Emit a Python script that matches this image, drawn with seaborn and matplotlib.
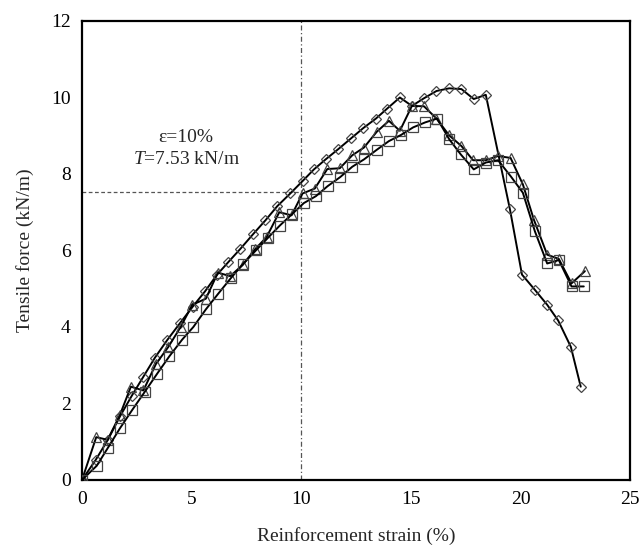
import matplotlib
matplotlib.use("Agg")
import matplotlib.pyplot as plt
import seaborn as sns
import pandas as pd

# Series 1 (diamond markers)
d_strain = [0, 0.62, 1.18, 1.73, 2.27, 2.8, 3.33, 3.89, 4.47, 5.05, 5.61, 6.15, 6.68, 7.22,
            7.81, 8.37, 8.91, 9.5, 10.07, 10.58, 11.11, 11.69, 12.27, 12.83, 13.41, 13.92,
            14.5, 15.05, 15.6, 16.17, 16.75, 17.31, 17.87, 18.42, 19.52, 20.07, 20.66,
            21.22, 21.72, 22.3, 22.75]
d_force = [0, 0.52, 1.05, 1.66, 2.2, 2.7, 3.2, 3.66, 4.1, 4.53, 4.93, 5.36, 5.7, 6.04,
           6.43, 6.79, 7.16, 7.49, 7.82, 8.12, 8.38, 8.65, 8.93, 9.2, 9.45, 9.71,
           10.0, 9.78, 9.98, 10.17, 10.24, 10.22, 9.96, 10.07, 7.08, 5.37, 4.97,
           4.58, 4.17, 3.48, 2.44]

# Series 2 (triangle markers)
t_strain = [0, 0.65, 1.17, 1.73, 2.23, 2.8, 3.37, 3.94, 4.5, 5.03, 5.65, 6.2, 6.76, 7.33,
            7.89, 8.42, 9.0, 9.56, 10.06, 10.62, 11.19, 11.76, 12.33, 12.86, 13.44, 14.0,
            14.5, 15.05, 15.6, 16.17, 16.75, 17.31, 17.84, 18.42, 18.98, 19.55, 20.11,
            20.61, 21.22, 21.75, 22.33, 22.94]
t_force = [0, 1.12, 1.05, 1.7, 2.44, 2.34, 3.03, 3.48, 4.0, 4.58, 4.74, 5.42, 5.33, 5.62,
           6.03, 6.35, 7.0, 6.92, 7.49, 7.62, 8.13, 8.15, 8.49, 8.69, 9.1, 9.39,
           9.13, 9.78, 9.77, 9.45, 9.01, 8.73, 8.36, 8.36, 8.47, 8.42, 7.73,
           6.81, 5.89, 5.78, 5.14, 5.46]

# Series 3 (square markers)
s_strain = [0, 0.67, 1.17, 1.73, 2.29, 2.87, 3.43, 3.98, 4.57, 5.08, 5.65, 6.2, 6.78, 7.35,
            7.93, 8.48, 9.02, 9.58, 10.12, 10.67, 11.2, 11.78, 12.33, 12.86, 13.44, 14.0,
            14.55, 15.11, 15.66, 16.2, 16.75, 17.28, 17.87, 18.42, 18.98, 19.57, 20.11,
            20.66, 21.22, 21.75, 22.33, 22.89]
s_force = [0, 0.37, 0.83, 1.35, 1.83, 2.31, 2.78, 3.23, 3.67, 4.0, 4.46, 4.86, 5.27, 5.65,
           6.0, 6.33, 6.65, 6.95, 7.24, 7.42, 7.68, 7.92, 8.19, 8.38, 8.63, 8.86,
           9.02, 9.22, 9.35, 9.45, 8.91, 8.51, 8.12, 8.3, 8.36, 7.93, 7.51,
           6.5, 5.66, 5.75, 5.06, 5.06]

ref_strain = 10
ref_force = 7.53
x_ticks = [0, 5, 10, 15, 20, 25]
y_ticks = [0, 2, 4, 6, 8, 10, 12]

sns.set_style("white")
plt.rcParams['font.family'] = ['Liberation Serif', 'DejaVu Serif']
plt.rcParams['mathtext.fontset'] = 'custom'
plt.rcParams['mathtext.it'] = 'Liberation Serif:italic'
plt.rcParams['mathtext.rm'] = 'Liberation Serif'

fig = plt.figure(figsize=(6.39, 5.54), dpi=100)
ax = fig.add_axes([0.1283, 0.1336, 0.8577, 0.8285])

# reference lines
ax.plot([ref_strain, ref_strain], [0, 12], color='#555555', lw=0.9,
        linestyle=(0, (4, 2, 1, 2)), zorder=1)
ax.plot([0, ref_strain], [ref_force, ref_force], color='#555555', lw=0.9,
        linestyle=(0, (3, 2)), zorder=1)

series = [
    (d_strain, d_force, 'D', 5.0),
    (t_strain, t_force, '^', 7.0),
    (s_strain, s_force, 's', 6.5),
]
for xs, ys, mk, ms in series:
    df = pd.DataFrame({'strain': xs, 'force': ys})
    sns.lineplot(data=df, x='strain', y='force', ax=ax, sort=False, estimator=None,
                 color='black', lw=1.4, marker=mk, markersize=ms,
                 markerfacecolor='none', markeredgecolor='#444444',
                 markeredgewidth=0.9, zorder=3)

ax.set_xlim(0, 25)
ax.set_ylim(0, 12)
ax.set_xticks(x_ticks)
ax.set_yticks(y_ticks)
ax.tick_params(direction='in', length=5, width=1.2, labelsize=14, pad=8,
               colors='black', top=False, right=False)
for sp in ax.spines.values():
    sp.set_color('black')
    sp.set_linewidth(1.6)

ax.set_xlabel('Reinforcement strain (%)', fontsize=14, labelpad=14)
ax.set_ylabel('Tensile force (kN/m)', fontsize=14, labelpad=12)

ax.text(4.75, 8.96, 'ε=10%', fontsize=14, ha='center', va='center')
ax.text(4.75, 8.38, r'$T$=7.53 kN/m', fontsize=14, ha='center', va='center')

fig.savefig('out.png', dpi=100)
